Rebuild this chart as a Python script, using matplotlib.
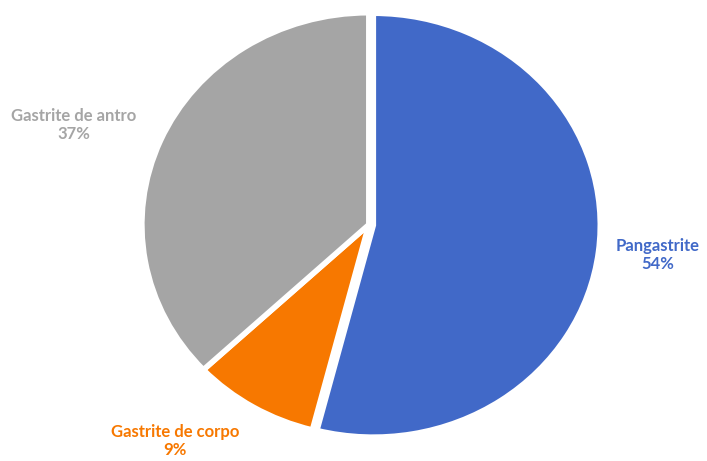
import matplotlib
matplotlib.use("Agg")
import matplotlib.pyplot as plt

# Distribution of gastritis location
labels = ["Pangastrite", "Gastrite de corpo", "Gastrite de antro"]
shares = [54, 9, 37]
colors = ["#4169C8", "#F77800", "#A5A5A5"]
label_pos = [(1.273, -0.143), (-0.855, -1.022), (-1.30, 0.470)]

plt.rcParams["font.family"] = ["Lato", "DejaVu Sans"]

fig = plt.figure(figsize=(7.07, 4.61), dpi=100)
ax = fig.add_axes([0, 0, 1, 1])

wedges, _ = ax.pie(
    shares,
    colors=colors,
    startangle=90,
    counterclock=False,
    explode=[0.02, 0, 0],
    wedgeprops=dict(edgecolor="white", linewidth=4),
)

for name, val, col, (x, y) in zip(labels, shares, colors, label_pos):
    ax.text(x, y, f"{name}\n{val}%", color=col, fontsize=12, fontweight="bold",
            ha="center", va="center", linespacing=1.15)

ax.set_aspect("auto")
ax.set_xlim(-1.625, 1.49)
ax.set_ylim(-1.115, 1.06)
ax.axis("off")

fig.savefig("out.png", dpi=100)
